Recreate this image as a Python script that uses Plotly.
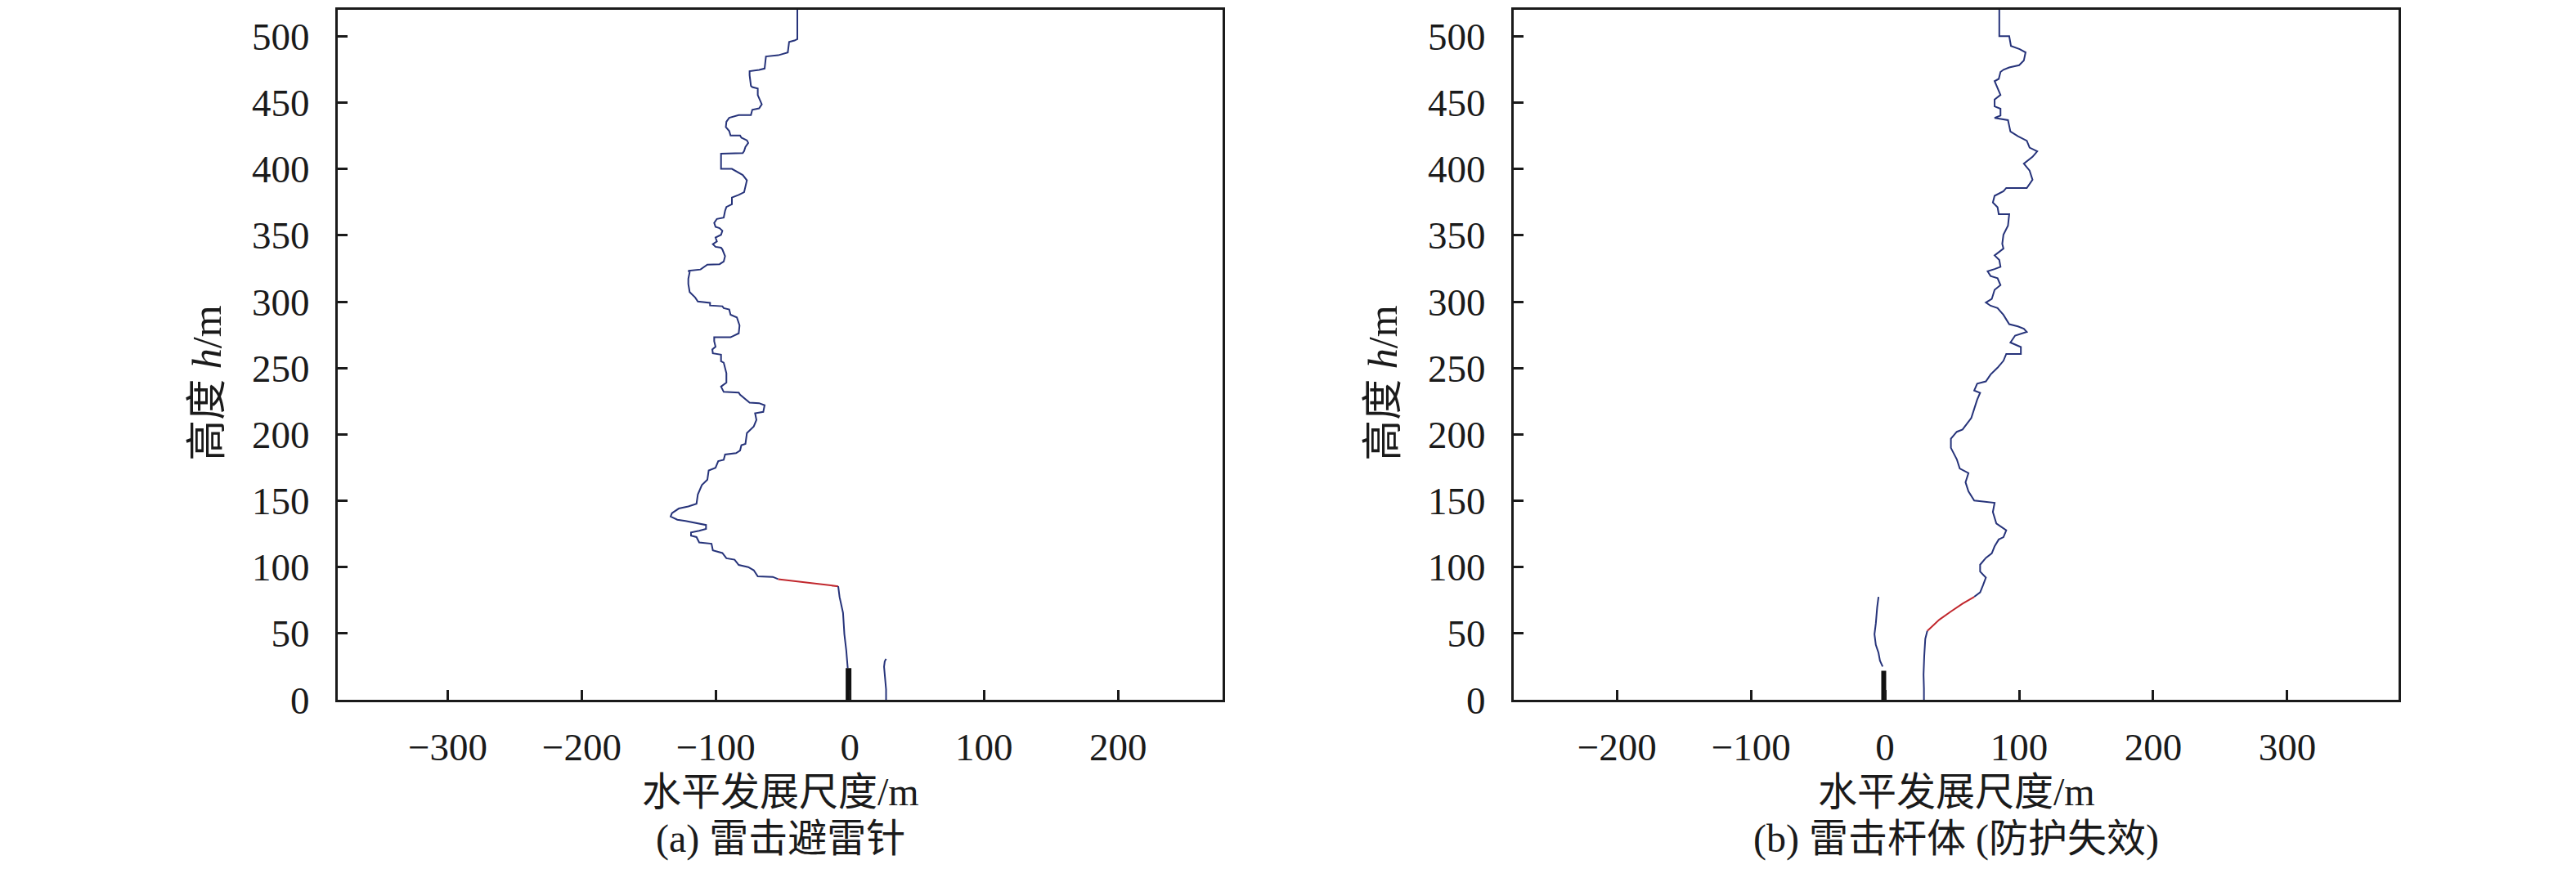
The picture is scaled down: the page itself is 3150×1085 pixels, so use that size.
import plotly.graph_objects as go

# ---------------- data (metres) ----------------
# Panel (a): downward leader (upper, blue)
a_upper_x = [-39.2, -39.2, -41.3, -45.3, -46.3, -53.5, -62.6, -63.6, -67.7, -74.8, -74.8, -73.8, -72.8, -68.7, -68.7,
             -67.7, -65.7, -67.7, -72.8, -73.8, -82.9, -90.0, -92.1, -92.5, -90.0, -89.0, -81.9, -80.9, -76.8, -75.8,
             -77.9, -78.9, -79.9, -96.1, -96.1, -88.0, -84.9, -79.9, -76.8, -77.9, -78.9, -82.9, -88.0, -88.0, -92.1,
             -93.1, -94.1, -99.2, -101.2, -100.2, -97.2, -95.1, -96.1, -100.2, -99.2, -102.2, -100.2, -96.1, -95.1,
             -93.1, -94.1, -97.2, -106.3, -111.4, -120.5, -119.5, -120.5, -120.5, -119.5, -115.4, -113.4, -104.3,
             -104.3, -95.1, -94.1, -90.0, -89.0, -84.3, -82.3, -82.9, -89.0, -101.2, -101.2, -100.2, -102.6, -102.2,
             -96.1, -96.1, -94.1, -92.1, -92.1, -96.1, -94.1, -82.9, -81.9, -74.8, -67.7, -63.6, -64.6, -70.7, -69.7,
             -71.7, -76.8, -77.9, -80.9, -81.9, -84.9, -93.1, -94.1, -98.2, -100.2, -105.3, -106.3, -110.4, -113.4,
             -114.4, -120.5, -127.6, -132.7, -133.7, -128.7, -122.6, -113.4, -107.3, -107.3, -112.4, -118.5, -118.5,
             -114.4, -112.4, -103.2, -102.2, -95.1, -92.1, -86.0, -82.9, -75.8, -71.7, -68.7, -57.5, -53.5]
a_upper_y = [520, 497.8, 496.8, 495.8, 487.8, 485.7, 484.8, 475.7, 474.7, 473.7, 470.7, 462.7, 461.7, 460.7, 455.7,
             453.7, 448.7, 445.7, 444.6, 440.6, 440.6, 438.6, 435.6, 431.6, 428.6, 425.2, 425.2, 423.6, 421.6, 419.6,
             416.6, 413.5, 412.0, 411.6, 400.1, 400.1, 398.5, 395.5, 391.5, 385.5, 382.5, 380.5, 378.5, 373.4, 371.4,
             368.4, 363.4, 362.4, 359.4, 356.4, 355.4, 353.4, 350.4, 348.4, 345.4, 343.4, 341.4, 340.7, 339.4,
             334.3, 330.3, 328.3, 327.9, 324.3, 323.3, 322.3, 317.3, 313.3, 307.3, 303.2, 300.2, 299.2,
             297.2, 296.6, 295.2, 294.2, 290.2, 288.2, 282.2, 276.2, 273.2, 273.2, 270.2, 266.1, 264.1, 261.1,
             260.1, 255.1, 254.1, 246.1, 239.1, 236.1, 232.1, 231.6, 230.0, 224.0, 223.6, 222.0, 217.0, 216.0, 211.0,
             206.0, 201.0, 192.9, 191.9, 187.9, 185.9, 184.9, 180.9, 179.9, 174.9, 172.9, 165.9, 161.9, 154.8,
             147.8, 145.8, 144.2, 140.8, 138.2, 135.8, 134.8, 132.8, 131.8, 128.8, 127.4, 126.2, 123.7,
             122.7, 118.7, 117.7, 112.7, 110.7, 106.7, 105.7, 101.7, 100.1, 97.7, 93.1, 92.7, 91.0]
# Panel (a): final jump (red)
a_jump_x = [-53.5, -42.3, -33.1, -23.0, -14.8, -8.7]
a_jump_y = [91.0, 89.6, 88.6, 87.6, 86.6, 85.6]
# Panel (a): upward leader from the rod tip (blue)
a_up_x = [-8.7, -7.7, -5.1, -4.1, -2.7, -1.6]
a_up_y = [85.6, 77.6, 65.6, 49.5, 37.5, 23.9]
# Panel (a): upward leader from ground
a_branch_x = [27.0, 26.0, 25.5, 26.0, 26.5, 27.0, 27.0]
a_branch_y = [31, 29, 25, 20, 14, 8, 0]
# Panel (a): lightning rod
a_rod_x = [-1, -1]
a_rod_y = [0, 24]

# Panel (b)
b_upper_x = [85.2, 85.2, 92.6, 93.9, 100.4, 104.8, 103.5, 100.0, 92.6, 88.3, 86.1, 84.8, 81.7, 83.9, 86.1, 81.7,
             81.7, 86.1, 86.1, 81.7, 91.7, 93.5, 99.1, 105.7, 107.8, 113.5, 110.0, 103.5, 107.8, 110.0, 105.7,
             90.4, 88.3, 81.7, 80.4, 83.9, 84.8, 92.6, 91.7, 88.3, 87.4, 88.3, 83.9, 81.7, 85.2, 86.1, 81.7, 76.5,
             78.7, 83.9, 86.1, 81.7, 79.6, 75.2, 78.7, 83.9, 88.3, 92.6, 99.1, 103.5, 105.7, 97.0, 93.5, 101.3,
             101.3, 90.4, 88.3, 83.9, 78.7, 75.2, 68.7, 66.5, 70.9, 68.7, 66.5, 64.3, 57.8, 53.5, 49.1, 49.1, 53.5,
             55.7, 62.2, 60.0, 62.2, 66.5, 81.7, 80.4, 83.0, 90.4, 88.3, 84.8, 81.7, 79.6, 75.2, 70.9, 70.9, 75.2,
             73.0, 70.9, 66.5]
b_upper_y = [520, 500.0, 500.0, 492.7, 490.3, 487.9, 481.7, 478.2, 476.5, 474.8, 473.1, 467.9, 466.2, 461.0, 455.8,
             452.3, 447.2, 445.4, 440.3, 438.5, 436.8, 428.2, 424.7, 421.3, 416.1, 413.3, 409.2, 404.0, 398.8, 391.9,
             385.7, 385.7, 383.3, 379.8, 374.7, 371.2, 366.0, 366.0, 357.4, 350.5, 343.6, 340.1, 336.7, 334.9, 331.5,
             326.3, 324.6, 322.9, 319.4, 317.7, 312.5, 309.0, 302.1, 299.4, 297.0, 295.2, 290.1, 283.1, 281.4, 279.7,
             277.3, 274.5, 269.3, 265.9, 260.7, 260.7, 255.5, 250.3, 245.2, 240.0, 238.3, 233.1, 231.4, 226.2, 219.3,
             212.4, 203.7, 202.0, 196.8, 189.9, 181.3, 174.4, 170.9, 164.0, 157.1, 150.2, 148.5, 141.6, 132.9, 127.8,
             122.6, 120.9, 115.7, 110.5, 107.0, 101.9, 96.7, 92.2, 86.3, 81.1, 77.7]
b_jump_x = [66.5, 57.8, 49.1, 40.4, 31.5]
b_jump_y = [77.7, 72.5, 66.6, 60.4, 52.0]
b_up_x = [31.5, 30.0, 29.2, 28.7, 29.0, 29.0]
b_up_y = [52.0, 46.0, 32.8, 19.0, 8.6, 0]
b_branch_x = [-4.9, -5.9, -6.9, -7.9, -6.9, -4.9, -3.8, -1.8]
b_branch_y = [77.6, 69.6, 57.6, 49.5, 41.5, 35.5, 29.5, 25.1]
b_rod_x = [-1, -1]
b_rod_y = [0, 22]

x_ticks = [-300, -200, -100, 0, 100, 200, 300]
y_ticks = [0, 50, 100, 150, 200, 250, 300, 350, 400, 450, 500]
x_title = "水平发展尺度/m"
y_title = "高度 <i>h</i>/m"
captions = ["(a) 雷击避雷针", "(b) 雷击杆体 (防护失效)"]

# ---------------- style ----------------
W, H = 3150, 1085
BLUE = "#26337a"
RED = "#c1272d"
FONT = "Liberation Serif, Times New Roman, Noto Sans CJK SC, serif"
TICKF = 47
TITLEF = 48

fig = go.Figure()

def add_panel(xa, ya, segs):
    for xs, ys, col, w in segs:
        fig.add_trace(go.Scatter(x=xs, y=ys, mode="lines", line=dict(color=col, width=w),
                                 xaxis=xa, yaxis=ya, showlegend=False, hoverinfo="skip"))

add_panel("x", "y", [
    (a_upper_x, a_upper_y, BLUE, 2),
    (a_jump_x, a_jump_y, RED, 2),
    (a_up_x, a_up_y, BLUE, 2),
    (a_branch_x, a_branch_y, BLUE, 2),
    (a_rod_x, a_rod_y, "#111111", 7),
])
add_panel("x2", "y2", [
    (b_upper_x, b_upper_y, BLUE, 2),
    (b_jump_x, b_jump_y, RED, 2),
    (b_up_x, b_up_y, BLUE, 2),
    (b_branch_x, b_branch_y, BLUE, 2),
    (b_rod_x, b_rod_y, "#111111", 6),
])

# plot-area geometry (pixels)
ax_a = (405, 1487)
ax_b = (1843, 2925)
top_px, bot_px = 4, 869
ydom = [(H - bot_px) / H, (H - top_px) / H]

common_axis = dict(showline=True, linecolor="#1a1a1a", linewidth=3, mirror=True,
                   ticks="inside", ticklen=12, tickwidth=3, tickcolor="#1a1a1a",
                   showgrid=False, zeroline=False,
                   tickfont=dict(family=FONT, size=TICKF, color="#1a1a1a"))

fig.update_layout(
    width=W, height=H,
    margin=dict(l=0, r=0, t=0, b=0),
    paper_bgcolor="white", plot_bgcolor="white",
    xaxis=dict(domain=[ax_a[0] / W, ax_a[1] / W], range=[-382, 278], tickvals=x_ticks,
               anchor="y", ticklabelstandoff=14, **common_axis),
    yaxis=dict(domain=ydom, range=[0, 520], tickvals=y_ticks, anchor="x",
               ticklabelstandoff=22, **common_axis),
    xaxis2=dict(domain=[ax_b[0] / W, ax_b[1] / W], range=[-277, 383], tickvals=x_ticks,
                anchor="y2", ticklabelstandoff=14, **common_axis),
    yaxis2=dict(domain=ydom, range=[0, 520], tickvals=y_ticks, anchor="x2",
                ticklabelstandoff=22, **common_axis),
)

ann = []
for (l, r), cap in zip([ax_a, ax_b], captions):
    cx = (l + r) / 2 / W
    ann.append(dict(x=cx, y=1 - 984 / H, xref="paper", yref="paper", text=x_title, showarrow=False,
                    xanchor="center", yanchor="middle", font=dict(family=FONT, size=TITLEF, color="#1a1a1a")))
    ann.append(dict(x=cx, y=1 - 1043 / H, xref="paper", yref="paper", text=cap, showarrow=False,
                    xanchor="center", yanchor="middle", font=dict(family=FONT, size=TITLEF, color="#1a1a1a")))
    ann.append(dict(x=(l - 160) / W, y=1 - 472 / H, xref="paper", yref="paper", text=y_title, showarrow=False,
                    textangle=-90, xanchor="center", yanchor="middle",
                    font=dict(family=FONT, size=TITLEF + 2, color="#1a1a1a")))
fig.update_layout(annotations=ann)

fig.write_html("out.html")
